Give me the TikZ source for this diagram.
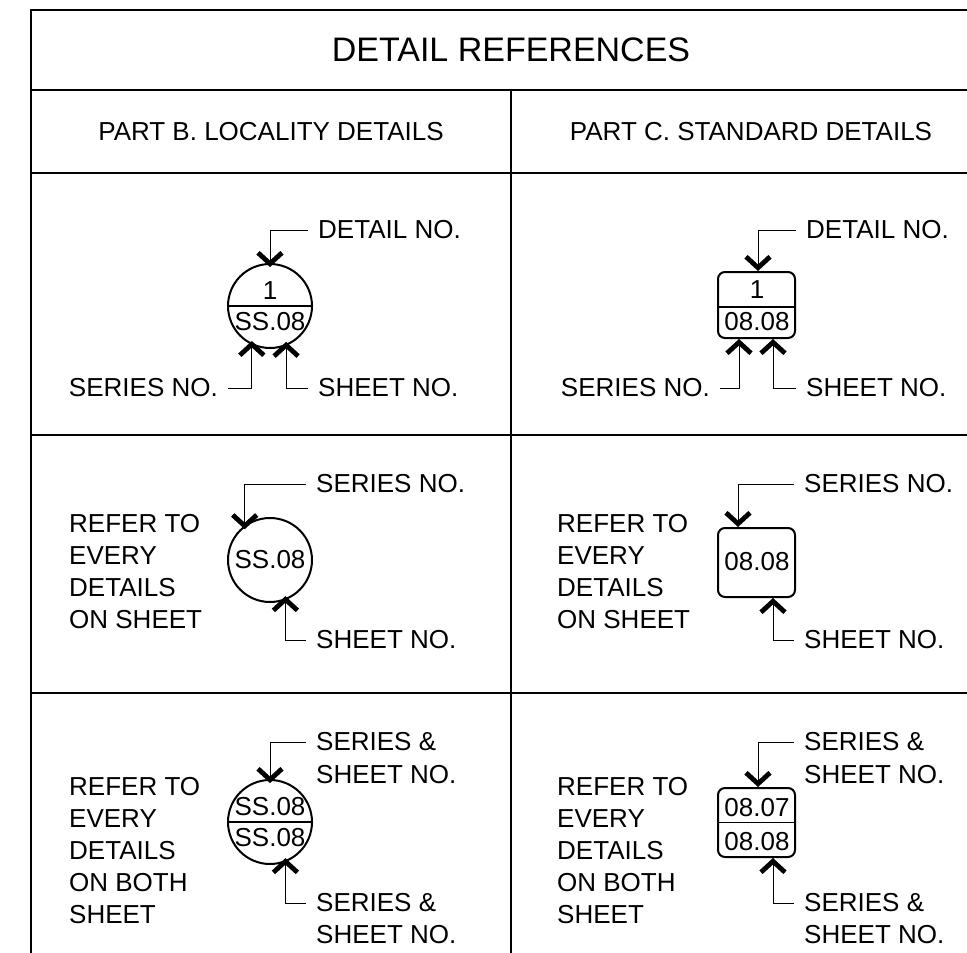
\documentclass[tikz,border=0pt]{standalone}
\usepackage{fontspec}
\setmainfont{Liberation Sans}
\usetikzlibrary{arrows.meta,calc}
\begin{document}
\begin{tikzpicture}[x=1pt,y=-1pt,
  txt/.style={inner sep=0pt, font=\fontsize{26}{32}\selectfont},
  blk/.style={txt, align=left, anchor=west},
  ttl/.style={inner sep=0pt, font=\fontsize{34}{40}\selectfont},
  grid/.style={line width=1.5pt},
  frame/.style={line width=1.8pt},
  sym/.style={draw, line width=2pt, inner sep=0pt},
  ring/.style={sym, circle, minimum size=84pt},
  tag/.style={sym, rectangle, rounded corners=7pt, minimum width=77pt, minimum height=#1},
  chord/.style={line width=1.3pt},
  leader/.style={line width=1pt, -{Straight Barb[length=11pt,width=24pt,line width=4.8pt,sharp]}},
]
\useasboundingbox (0,0) rectangle (967,953);
\clip (0,0) rectangle (967,953);
% table
\draw[frame] (31,960) -- (31,10) -- (975,10);
\draw[grid] (31,90) -- (975,90);
\draw[grid] (31,173) -- (975,173);
\draw[grid] (31,435) -- (975,435);
\draw[grid] (31,693) -- (975,693);
\draw[grid] (511,90) -- (511,960);
% headers
\node[ttl] (title) at (511,50) {DETAIL REFERENCES};
\node[txt] (hb) at (271,132) {PART B. LOCALITY DETAILS};
\node[txt] (hc) at (751,132) {PART C. STANDARD DETAILS};

% ---- row 1 left
\node[ring] (c1) at (270,306) {};
\draw[chord] (c1.west) -- (c1.east);
\node[txt] (c1t) at (270,291) {1};
\node[txt] (c1b) at (270,322) {SS.08};
\node[txt,anchor=west] (l1a) at (318,230) {DETAIL NO.};
\node[txt,anchor=east] (l1b) at (218,388) {SERIES NO.};
\node[txt,anchor=west] (l1c) at (318,388) {SHEET NO.};
\draw[leader,shorten >=-4pt] ([xshift=-10pt]l1a.west) -| (c1.north);
\draw[leader,shorten >=-4pt] ([xshift=10pt]l1b.east) -| (c1.245);
\draw[leader,shorten >=-4pt] ([xshift=-10pt]l1c.west) -| (c1.292);

% ---- row 1 right
\node[tag=66pt] (b1) at (756.5,305) {};
\draw[chord] ([yshift=-2pt]b1.west) -- ([yshift=-2pt]b1.east);
\node[txt] (b1t) at (757,290) {1};
\node[txt] (b1b) at (757,322) {08.08};
\node[txt,anchor=west] (r1a) at (806,230) {DETAIL NO.};
\node[txt,anchor=east] (r1b) at (710,388) {SERIES NO.};
\node[txt,anchor=west] (r1c) at (806,388) {SHEET NO.};
\draw[leader] ([xshift=-10pt]r1a.west) -| ([xshift=1.5pt]b1.north);
\draw[leader] ([xshift=10pt]r1b.east) -| ([xshift=-17.5pt]b1.south);
\draw[leader] ([xshift=-10pt]r1c.west) -| ([xshift=16.5pt]b1.south);

% ---- row 2 left
\node[ring] (c3) at (270,560) {};
\node[txt] (c3t) at (270,560) {SS.08};
\node[txt,anchor=west] (l3a) at (316,484) {SERIES NO.};
\node[txt,anchor=west] (l3b) at (316,640) {SHEET NO.};
\draw[leader,shorten >=-4pt] ([xshift=-10pt]l3a.west) -| (c3.126);
\draw[leader,shorten >=-4pt] ([xshift=-10pt]l3b.west) -| (c3.291);
\node[blk] (n3) at (69,572) {REFER TO\\EVERY\\DETAILS\\ON SHEET};

% ---- row 2 right
\node[tag=69pt] (b3) at (756.5,562.5) {};
\node[txt] (b3t) at (757,562) {08.08};
\node[txt,anchor=west] (r3a) at (804,484) {SERIES NO.};
\node[txt,anchor=west] (r3b) at (804,640) {SHEET NO.};
\draw[leader] ([xshift=-10pt]r3a.west) -| ([xshift=-18.5pt]b3.north);
\draw[leader] ([xshift=-10pt]r3b.west) -| ([xshift=16.5pt]b3.south);
\node[blk] (m3) at (557,572) {REFER TO\\EVERY\\DETAILS\\ON SHEET};

% ---- row 3 left
\node[ring] (c5) at (270,822) {};
\draw[chord] (c5.west) -- (c5.east);
\node[txt] (c5t) at (270,807) {SS.08};
\node[txt] (c5b) at (270,838) {SS.08};
\node[txt,anchor=west] (l5a) at (316,742) {SERIES \&};
\node[txt,anchor=west] (l5b) at (316,775) {SHEET NO.};
\node[txt,anchor=west] (l5c) at (316,903) {SERIES \&};
\node[txt,anchor=west] (l5d) at (316,935) {SHEET NO.};
\draw[leader,shorten >=-4pt] ([xshift=-10pt]l5a.west) -| (c5.north);
\draw[leader,shorten >=-4pt] ([xshift=-10pt]l5c.west) -| (c5.291);
\node[blk] (n5) at (69,851) {REFER TO\\EVERY\\DETAILS\\ON BOTH\\SHEET};

% ---- row 3 right
\node[tag=69pt] (b5) at (756.5,822.5) {};
\draw[chord] (b5.west) -- (b5.east);
\node[txt] (b5t) at (757,808) {08.07};
\node[txt] (b5b) at (757,842) {08.08};
\node[txt,anchor=west] (r5a) at (804,742) {SERIES \&};
\node[txt,anchor=west] (r5b) at (804,775) {SHEET NO.};
\node[txt,anchor=west] (r5c) at (804,903) {SERIES \&};
\node[txt,anchor=west] (r5d) at (804,935) {SHEET NO.};
\draw[leader] ([xshift=-10pt]r5a.west) -| ([xshift=1.5pt]b5.north);
\draw[leader] ([xshift=-10pt]r5c.west) -| ([xshift=16.5pt]b5.south);
\node[blk] (m5) at (557,851) {REFER TO\\EVERY\\DETAILS\\ON BOTH\\SHEET};
\end{tikzpicture}
\end{document}
